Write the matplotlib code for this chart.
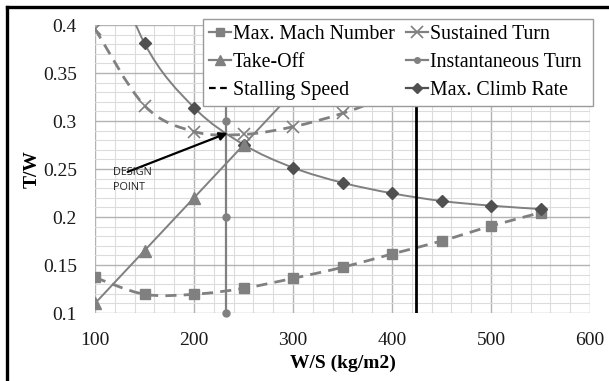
import matplotlib
matplotlib.use('Agg')
import matplotlib.pyplot as plt
from matplotlib.path import Path
from matplotlib.patches import PathPatch
from matplotlib.lines import Line2D
from matplotlib.ticker import MultipleLocator

plt.rcParams['font.family'] = ['Liberation Serif', 'DejaVu Serif']

# ---- data ----
ws = [100, 150, 200, 250, 300, 350, 400, 450, 500, 550]
max_mach = [0.137, 0.1195, 0.1195, 0.1257, 0.1361, 0.1476, 0.1615, 0.175, 0.1906, 0.2045]
climb_ws = [100, 150, 200, 250, 300, 350, 400, 450, 500, 550]
max_climb = [0.51, 0.381, 0.314, 0.2755, 0.2514, 0.2357, 0.2247, 0.2167, 0.2118, 0.2083]
takeoff_ws = [100, 150, 200, 250, 300, 350]
takeoff = [0.11, 0.165, 0.22, 0.275, 0.33, 0.385]
sust_ws = [100, 150, 200, 250, 300, 350, 400]
sustained = [0.396, 0.316, 0.289, 0.286, 0.294, 0.308, 0.327]
inst_ws = [232, 232, 232, 232]
inst_tw = [0.1, 0.2, 0.3, 0.4]
stall_ws = [424, 424]
stall_tw = [0.1, 0.4]

x_ticks = [100, 200, 300, 400, 500, 600]
y_ticks = [0.1, 0.15, 0.2, 0.25, 0.3, 0.35, 0.4]
y_labels = ['0.1', '0.15', '0.2', '0.25', '0.3', '0.35', '0.4']

GRAY = '#808080'
DARK = '#505050'


def smooth_path(xs, ys):
    verts = [(xs[0], ys[0])]
    codes = [Path.MOVETO]
    n = len(xs)
    for i in range(n - 1):
        p0 = (xs[i - 1], ys[i - 1]) if i > 0 else (xs[i], ys[i])
        p1 = (xs[i], ys[i])
        p2 = (xs[i + 1], ys[i + 1])
        p3 = (xs[i + 2], ys[i + 2]) if i + 2 < n else p2
        c1 = (p1[0] + (p2[0] - p0[0]) / 6, p1[1] + (p2[1] - p0[1]) / 6)
        c2 = (p2[0] - (p3[0] - p1[0]) / 6, p2[1] - (p3[1] - p1[1]) / 6)
        verts += [c1, c2, p2]
        codes += [Path.CURVE4] * 3
    return Path(verts, codes)


fig = plt.figure(figsize=(6.09, 3.81), dpi=100)
ax = fig.add_axes([95 / 609, 1 - 313 / 381, 495 / 609, 288 / 381])
ax.set_xlim(100, 600)
ax.set_ylim(0.1, 0.4)

ax.xaxis.set_minor_locator(MultipleLocator(20))
ax.yaxis.set_minor_locator(MultipleLocator(0.01))
ax.set_xticks(x_ticks)
ax.set_yticks(y_ticks)
ax.set_yticklabels(y_labels)
ax.grid(which='major', color='#b3b3b3', lw=1.0, zorder=0)
ax.grid(which='minor', color='#dcdcdc', lw=0.8, zorder=0)
ax.set_axisbelow(True)
for s in ax.spines.values():
    s.set_visible(False)
ax.tick_params(which='both', length=0, labelsize=14, colors='#1a1a1a')
ax.tick_params(axis='x', pad=14)
ax.tick_params(axis='y', pad=13)

# lines
def curve(xs, ys, ls, color, lw=1.6, z=3):
    patch = PathPatch(smooth_path(xs, ys), facecolor='none', edgecolor=color,
                      lw=lw, linestyle=ls, zorder=z)
    ax.add_patch(patch)

dash = (0, (4, 2.6))
curve(ws, max_mach, dash, GRAY, lw=2.0)
curve(sust_ws, sustained, dash, GRAY, lw=2.0)
curve(climb_ws, max_climb, '-', GRAY, lw=1.4)
ax.plot(takeoff_ws, takeoff, color=GRAY, lw=1.4, zorder=3)
ax.plot(inst_ws, inst_tw, color=GRAY, lw=1.6, zorder=3)
ax.plot(stall_ws, stall_tw, color='black', lw=2.0, zorder=3)

# markers
ax.plot(ws, max_mach, 's', color=GRAY, ms=7, ls='none', zorder=4)
ax.plot(sust_ws, sustained, 'x', color=GRAY, ms=9, mew=1.2, ls='none', zorder=4)
ax.plot(climb_ws, max_climb, 'D', color=DARK, ms=6, ls='none', zorder=4)
ax.plot(takeoff_ws, takeoff, '^', color=GRAY, ms=8, ls='none', zorder=4)
ax.plot(inst_ws, inst_tw, 'o', color=GRAY, ms=5, ls='none', zorder=4, clip_on=False)

# annotation
ax.annotate('', xy=(234, 0.2875), xytext=(133, 0.247),
            arrowprops=dict(arrowstyle='-|>', color='black', lw=1.6,
                            mutation_scale=12, shrinkA=0, shrinkB=0), zorder=6)
ax.text(118.5, 0.252, 'DESIGN\nPOINT', fontsize=7.8, family=['Open Sans', 'DejaVu Sans'],
        va='top', ha='left', linespacing=1.45, color='#222222', zorder=6)

ax.set_xlabel('W/S (kg/m2)', fontsize=14, fontweight='bold', labelpad=4)
ax.set_ylabel('T/W', fontsize=14, fontweight='bold')
ax.yaxis.set_label_coords(-0.11, 0.5)

handles = [
    Line2D([], [], color=GRAY, lw=1.6, marker='s', ms=6),
    Line2D([], [], color=GRAY, lw=1.6, marker='^', ms=7),
    Line2D([], [], color='black', lw=1.6, ls=(0, (3, 2))),
    Line2D([], [], color=GRAY, lw=1.6, marker='x', ms=8, mew=1.2),
    Line2D([], [], color=GRAY, lw=1.6, marker='o', ms=4),
    Line2D([], [], color=DARK, lw=1.6, marker='D', ms=5),
]
labels = ['Max. Mach Number', 'Take-Off', 'Stalling Speed',
          'Sustained Turn', 'Instantaneous Turn ', 'Max. Climb Rate']
leg = ax.legend(handles, labels, ncol=2, loc='upper left',
                bbox_to_anchor=(0.218, 1.021), borderaxespad=0, fontsize=14.3,
                handlelength=1.1, handletextpad=0.1, columnspacing=0.6,
                labelspacing=0.45, borderpad=0.3, fancybox=False,
                framealpha=1, edgecolor='#9a9a9a')
leg.get_frame().set_linewidth(1.0)
leg.set_zorder(10)

# figure border (left and top)
fig.add_artist(Line2D([6.5 / 609, 6.5 / 609], [0, 1 - 6.5 / 381], color='black', lw=2.4,
                      transform=fig.transFigure, solid_capstyle='projecting'))
fig.add_artist(Line2D([6.5 / 609, 1], [1 - 6.5 / 381, 1 - 6.5 / 381], color='black', lw=2.4,
                      transform=fig.transFigure, solid_capstyle='projecting'))

fig.savefig('out.png', dpi=100)
